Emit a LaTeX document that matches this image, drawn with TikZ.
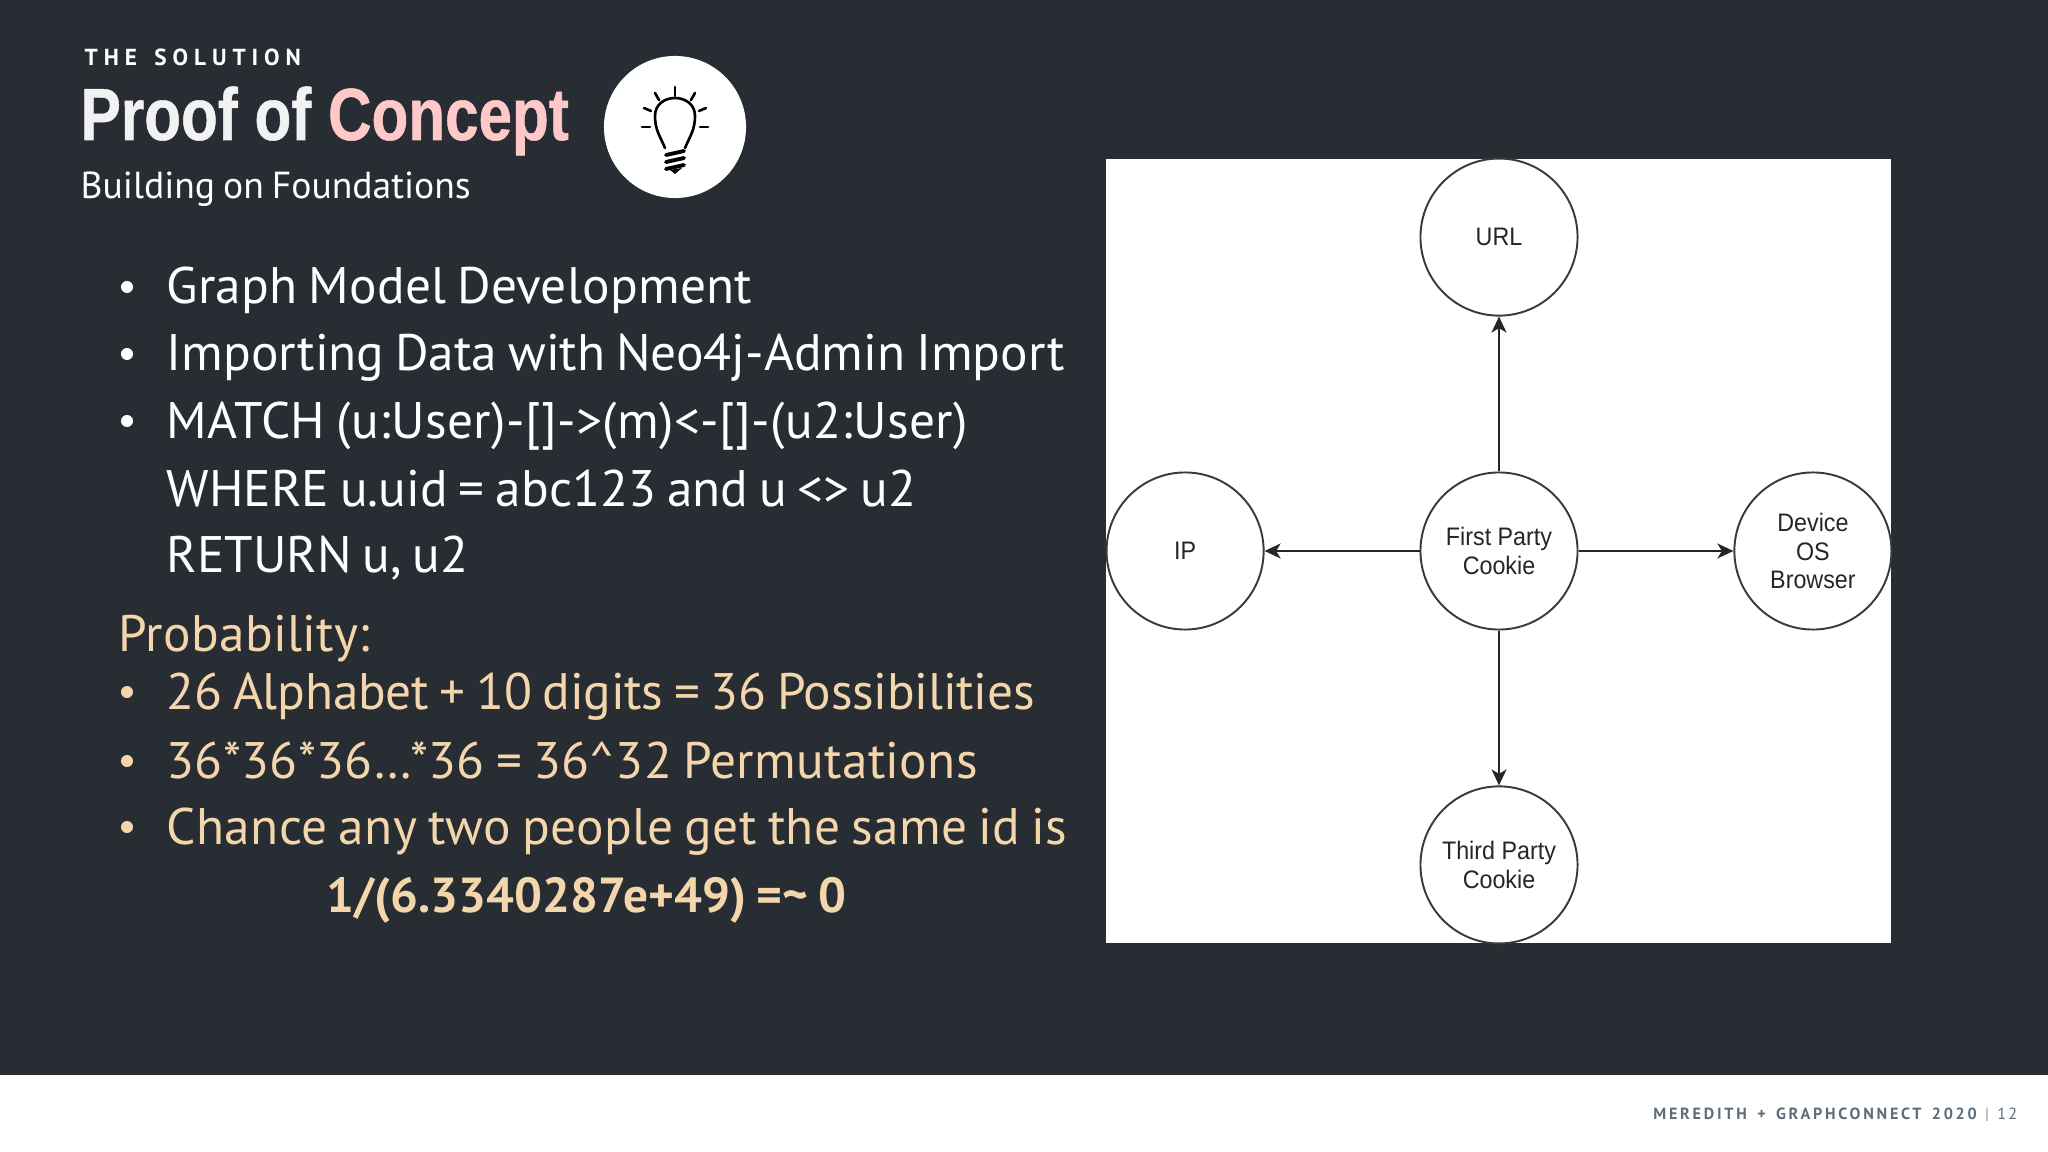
\documentclass[tikz,border=0pt]{standalone}
\usepackage{fontspec}
\setmainfont[WordSpace=0.8]{PT Sans}
\newfontfamily\titlefont[FakeStretch=0.815,BoldFeatures={FakeBold=0.7}]{Liberation Sans}
\newfontfamily\ringfont[FakeStretch=0.92]{Liberation Sans}
\usepackage{xcolor}
\usetikzlibrary{positioning,arrows.meta}
\definecolor{slidebg}{HTML}{282D33}
\definecolor{peach}{HTML}{F3D6AC}
\definecolor{blush}{HTML}{FFC9C9}
\definecolor{footgray}{HTML}{5D6D7B}
\definecolor{ringgray}{HTML}{3A3A3A}
\newcommand{\spaced}[2]{\addfontfeature{LetterSpace=#1}#2}

\begin{document}
\begin{tikzpicture}[x=0.01cm, y=-0.01cm, >={Stealth[length=1.6mm,width=1.5mm,inset=0.45mm]}, node distance=1.548cm,
  bodyline/.style={anchor=base west, inner sep=0pt, text=white, font=\fontsize{14.6}{17}\selectfont},
  peachline/.style={bodyline, text=peach},
  dotmark/.style={circle, fill=#1, inner sep=0pt, minimum size=1.2mm},
  ring/.style={circle, draw=ringgray, line width=0.55pt, fill=white, minimum size=1.57cm, inner sep=0pt, align=center, text=black!85, font=\ringfont\fontsize{7.2}{8.1}\selectfont},
  link/.style={->, line width=0.55pt, black!85},
  rayline/.style={line width=0.75pt, line cap=round, black}]

\useasboundingbox (0,0) rectangle (2048,1152);
\fill[slidebg] (0,0) rectangle (2048,1075);
\fill[white] (0,1075) rectangle (2048,1152);

% heading
\node (kicker) [anchor=base west, inner sep=0pt, text=white, font=\bfseries\fontsize{6.6}{8}\selectfont] at (84,65.5) {\spaced{25.5}{THE\hspace{0.35em} SOLUTION}};
\node (headline) [anchor=base west, inner sep=0pt, text=white!95!black, font=\titlefont\bfseries\fontsize{21}{24}\selectfont] at (80,140) {Proof of \textcolor{blush}{Concept}};
\node (subhead) [anchor=base west, inner sep=0pt, text=white, font=\fontsize{10.7}{12}\selectfont] at (80,199) {Building on Foundations};

% lightbulb badge
\node (badge) [circle, fill=white, minimum size=1.42cm, inner sep=0pt] at (675,127) {};
\draw[rayline] (665,148) .. controls (660,136) and (655,130) .. (655,116) .. controls (655,92) and (695,92) .. (695,116) .. controls (695,130) and (690,136) .. (685,148);
\foreach \a/\b/\c/\d in {675/87/675/96, 655/93/659/100, 695/93/691/100, 644/108/651/111, 706/108/699/111, 642/127/650/127, 708/127/700/127}
  \draw[rayline] (\a,\b) -- (\c,\d);
\foreach \y in {153,160,167}
  \draw[line width=1.1pt, line cap=round] (666,\y+2) -- (684,\y-2);
\fill (670,170) -- (682,168) -- (675,174) -- cycle;

% bullet list
\node (graphmodel) [bodyline] at (166,304) {\spaced{0.4}{Graph Model Development}};
\node (importing) [bodyline] at (166,371) {Importing Data with Neo4j-Admin Import};
\node (matchline) [bodyline] at (166,439) {\spaced{0.8}{MATCH (u:User)-[]->(m)<-[]-(u2:User)}};
\node (whereline) [bodyline] at (166,507) {WHERE u.uid = abc123 and u <> u2};
\node (returnline) [bodyline] at (166,573) {RETURN u, u2};
\node (probtitle) [peachline] at (118,652) {\spaced{0.6}{Probability:}};
\node (alphabet) [peachline] at (166,709) {\spaced{-0.5}{26 Alphabet + 10 digits = 36 Possibilities}};
\node (perms) [peachline] at (166,778) {\spaced{0.6}{36*36*36\dots*36 = 36\textasciicircum 32 Permutations}};
\node (chance) [peachline] at (166,844) {\spaced{0.7}{Chance any two people get the same id is}};
\node (result) [peachline, font=\bfseries\fontsize{14}{17}\selectfont] at (326,912) {1/(6.3340287e+49) =\textasciitilde{} 0};
\foreach \name/\y/\col in {dota/287/white, dotb/354/white, dotc/421/white, dotd/692/peach, dote/761/peach, dotf/827/peach}
  \node (\name) [dotmark=\col] at (127,\y) {};

% graph panel
\fill[white] (1106,159) rectangle (1891,943);
\node (firstparty) [ring] at (1499,551) {First Party\\Cookie};
\node (url) [ring, above=of firstparty] {URL};
\node (ip) [ring, left=of firstparty] {IP};
\node (device) [ring, right=of firstparty] {Device\\OS\\Browser};
\node (thirdparty) [ring, below=of firstparty] {Third Party\\Cookie};

\draw[link] (firstparty) -- (url);
\draw[link] (firstparty) -- (ip);
\draw[link] (firstparty) -- (device);
\draw[link] (firstparty) -- (thirdparty);

% footer
\node (footer) [anchor=base east, inner sep=0pt, text=footgray, font=\fontsize{4.6}{6}\selectfont] at (2018,1119) {{\bfseries\spaced{17}{MEREDITH\hspace{0.3em} +\hspace{0.3em} GRAPHCONNECT\hspace{0.3em} 2020}}\hspace{0.3em} \textcolor{footgray!70}{|}\hspace{0.3em} \spaced{15}{12}};

\end{tikzpicture}
\end{document}
